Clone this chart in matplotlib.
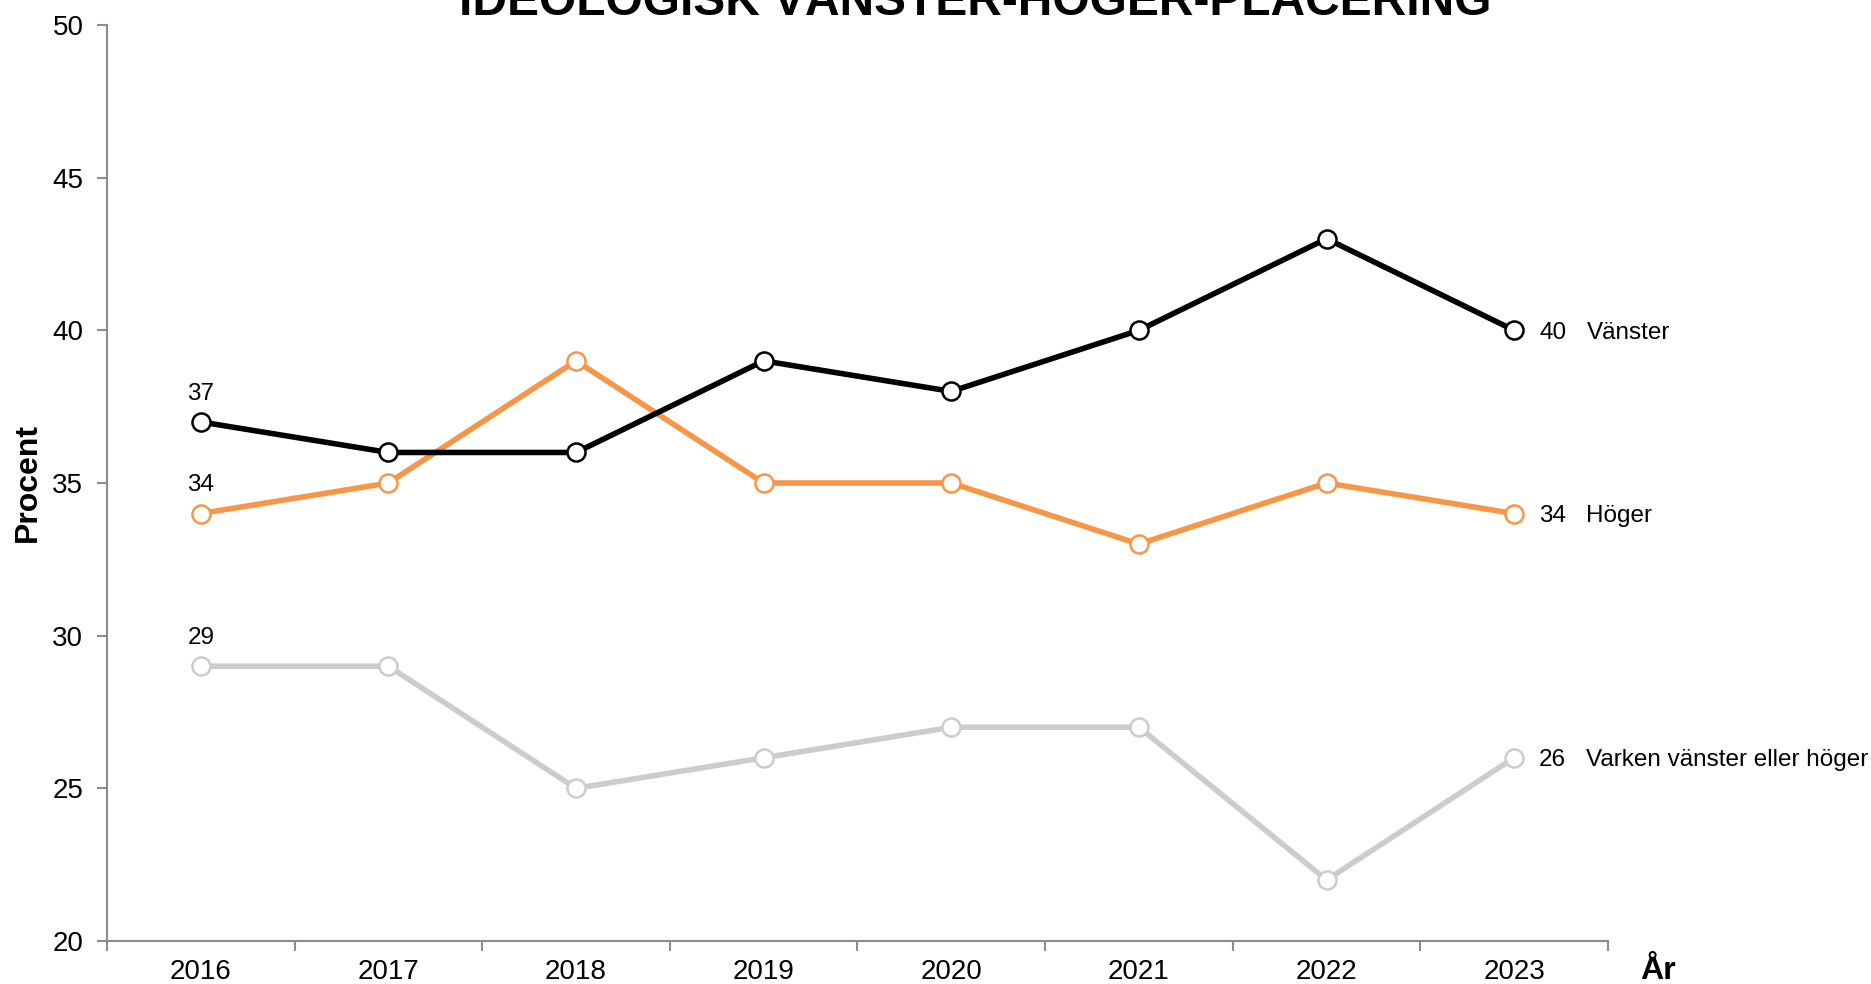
import numpy as np
import matplotlib
matplotlib.use("Agg")
import matplotlib.pyplot as plt
from matplotlib.ticker import FixedLocator

plt.rcParams['font.family'] = ['Liberation Sans', 'DejaVu Sans']

# Data
years = ["2016", "2017", "2018", "2019", "2020", "2021", "2022", "2023"]
vanster = [37, 36, 36, 39, 38, 40, 43, 40]
hoger = [34, 35, 39, 35, 35, 33, 35, 34]
varken = [29, 29, 25, 26, 27, 27, 22, 26]
series_names = ["Vänster", "Höger", "Varken vänster eller höger"]
y_ticks = [20, 25, 30, 35, 40, 45, 50]

colors = ["#000000", "#F79646", "#CCCCCC"]

W, H = 1871, 984
fig = plt.figure(figsize=(W / 100, H / 100), dpi=100)
ax = fig.add_axes([107 / W, (H - 941) / H, (1608 - 107) / W, (941 - 25) / H])

x = np.arange(len(years))
for vals, name, col in zip([varken, hoger, vanster], series_names[::-1], colors[::-1]):
    ax.plot(x, vals, color=col, lw=4.0, marker="o", ms=13, mfc="white",
            mec=col, mew=1.8, zorder=3)
    # first point label above
    ax.annotate(str(vals[0]), (x[0], vals[0]), xytext=(0, 22), textcoords="offset points",
                ha="center", va="center_baseline", fontsize=17.5, color="black")
    # last point value + series name
    ax.annotate(str(vals[-1]), (x[-1], vals[-1]), xytext=(18, 0), textcoords="offset points",
                ha="left", va="center_baseline", fontsize=17.5, color="black",
                annotation_clip=False)
    ax.annotate(name, (x[-1], vals[-1]), xytext=(52, 0), textcoords="offset points",
                ha="left", va="center_baseline", fontsize=17.5, color="black",
                annotation_clip=False)

ax.set_xlim(-0.5, len(years) - 0.5)
ax.set_ylim(20, 50)
ax.set_yticks(y_ticks)
ax.set_xticks(x)
ax.set_xticklabels(years)
ax.xaxis.set_minor_locator(FixedLocator(np.arange(-0.5, len(years), 1.0)))

for s in ["top", "right"]:
    ax.spines[s].set_visible(False)
for s in ["left", "bottom"]:
    ax.spines[s].set_color("#8C8C8C")
    ax.spines[s].set_linewidth(1.5)

ax.tick_params(axis="y", length=7, width=1.5, color="#8C8C8C", labelsize=20, pad=10)
ax.tick_params(axis="x", which="major", length=0, labelsize=20, pad=13)
ax.tick_params(axis="x", which="minor", length=7, width=1.5, color="#8C8C8C")

fig.text(28 / W, 1 - 482 / H, "Procent", rotation=90, ha="center", va="center",
         fontsize=23, fontweight="bold")
fig.text(1658 / W, 1 - 971 / H, "År", ha="center", va="center",
         fontsize=23, fontweight="bold")
fig.text(975 / W, 1 - 15 / H, "IDEOLOGISK VÄNSTER-HÖGER-PLACERING", ha="center",
         va="baseline", fontsize=34.5, fontweight="bold")

fig.savefig("out.png", dpi=100)
